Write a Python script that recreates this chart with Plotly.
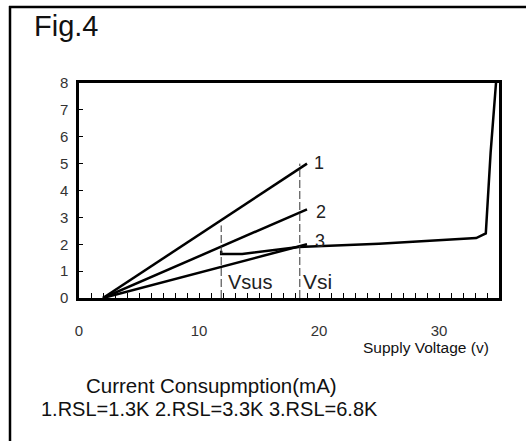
import plotly.graph_objects as go

# ---- data ----
line1_x = [2.0, 19.0]
line1_y = [0.0, 5.0]
line2_x = [2.0, 19.0]
line2_y = [0.0, 3.3]
line3_x = [2.0, 19.0]
line3_y = [0.0, 2.0]
# current after Vsus, up to breakdown
curve_x = [11.85, 11.85, 13.6, 16.0, 18.3, 25.0, 33.1, 33.9, 34.3, 34.75]
curve_y = [1.76, 1.64, 1.64, 1.78, 1.9, 2.02, 2.23, 2.4, 5.4, 8.0]
vsus_x = [11.85, 11.85]
vsus_y = [0.0, 2.7]
vsi_x = [18.4, 18.4]
vsi_y = [0.0, 5.0]

x_tick_vals = [0, 10, 20, 30]
x_tick_text = ["0", "10", "20", "30"]
y_tick_vals = [0, 1, 2, 3, 4, 5, 6, 7, 8]

curve_labels = ["1", "2", "3"]
curve_label_x = [20.0, 20.2, 20.1]
curve_label_y = [5.02, 3.2, 2.12]

FONT = "Liberation Sans, Arial, sans-serif"

fig = go.Figure()
solid = dict(color="black", width=2.5)
for xs, ys in [(line1_x, line1_y), (line2_x, line2_y), (line3_x, line3_y), (curve_x, curve_y)]:
    fig.add_trace(go.Scatter(x=xs, y=ys, mode="lines", line=solid, hoverinfo="skip"))
dashed = dict(color="#333333", width=1, dash="8px,3px")
for xs, ys in [(vsus_x, vsus_y), (vsi_x, vsi_y)]:
    fig.add_trace(go.Scatter(x=xs, y=ys, mode="lines", line=dashed, hoverinfo="skip"))

L, R, T, B = 79, 27, 83, 143
W, H = 526, 441
pw, ph = W - L - R, H - T - B


def px(xp):
    return (xp - L) / pw


def py(yp):
    return (H - B - yp) / ph


annotations = []
for t, x, y in zip(curve_labels, curve_label_x, curve_label_y):
    annotations.append(dict(x=x, y=y, xref="x", yref="y", text=t, showarrow=False,
                            xanchor="center", yanchor="middle",
                            font=dict(family=FONT, size=18, color="#222")))
annotations.append(dict(x=12.25, y=0.6, xref="x", yref="y", text="Vsus", showarrow=False,
                        xanchor="left", yanchor="middle", font=dict(family=FONT, size=20, color="#222")))
annotations.append(dict(x=18.5, y=0.6, xref="x", yref="y", text="Vsi", showarrow=False,
                        xanchor="left", yanchor="middle", font=dict(family=FONT, size=21, color="#222")))
annotations.append(dict(x=px(32), y=py(26), xref="paper", yref="paper", text="Fig.4", showarrow=False,
                        xanchor="left", yanchor="middle", font=dict(family=FONT, size=29, color="#111")))
annotations.append(dict(x=px(491), y=py(347), xref="paper", yref="paper", text="Supply Voltage (v)",
                        showarrow=False, xanchor="right", yanchor="middle",
                        font=dict(family=FONT, size=15.5, color="#111")))
annotations.append(dict(x=px(84), y=py(385), xref="paper", yref="paper", text="Current Consupmption(mA)",
                        showarrow=False, xanchor="left", yanchor="middle",
                        font=dict(family=FONT, size=20.5, color="#111")))
annotations.append(dict(x=px(39), y=py(409), xref="paper", yref="paper",
                        text="1.RSL=1.3K 2.RSL=3.3K 3.RSL=6.8K",
                        showarrow=False, xanchor="left", yanchor="middle",
                        font=dict(family=FONT, size=20, color="#111")))

shapes = [
    dict(type="line", xref="paper", yref="paper", x0=px(10), x1=px(10), y0=py(6), y1=py(445),
         line=dict(color="black", width=2.5)),
    dict(type="line", xref="paper", yref="paper", x0=px(9), x1=px(530), y0=py(7), y1=py(7),
         line=dict(color="black", width=2.5)),
]

fig.update_layout(
    width=W, height=H, autosize=False,
    margin=dict(l=L, r=R, t=T, b=B),
    paper_bgcolor="white", plot_bgcolor="white",
    showlegend=False,
    font=dict(family=FONT, color="#222"),
    annotations=annotations,
    shapes=shapes,
    xaxis=dict(range=[0, 35], showgrid=False, zeroline=False,
               showline=True, linecolor="black", linewidth=2.5, mirror=True,
               tickmode="array", tickvals=x_tick_vals, ticktext=x_tick_text,
               ticks="inside", ticklen=5, tickwidth=1, tickcolor="black",
               minor=dict(dtick=1, ticks="inside", ticklen=5, tickwidth=1, tickcolor="black", showgrid=False),
               ticklabelstandoff=17,
               tickfont=dict(family=FONT, size=15, color="#333")),
    yaxis=dict(range=[0, 8], showgrid=False, zeroline=False,
               showline=True, linecolor="black", linewidth=2.5, mirror=True,
               tickmode="array", tickvals=y_tick_vals,
               ticks="inside", ticklen=4, tickwidth=1, tickcolor="black",
               ticklabelstandoff=5,
               tickfont=dict(family=FONT, size=15, color="#333")),
)

fig.write_html("out.html", config={"displayModeBar": False},
               post_script="document.body.style.margin='0px';document.body.style.overflow='hidden';")
